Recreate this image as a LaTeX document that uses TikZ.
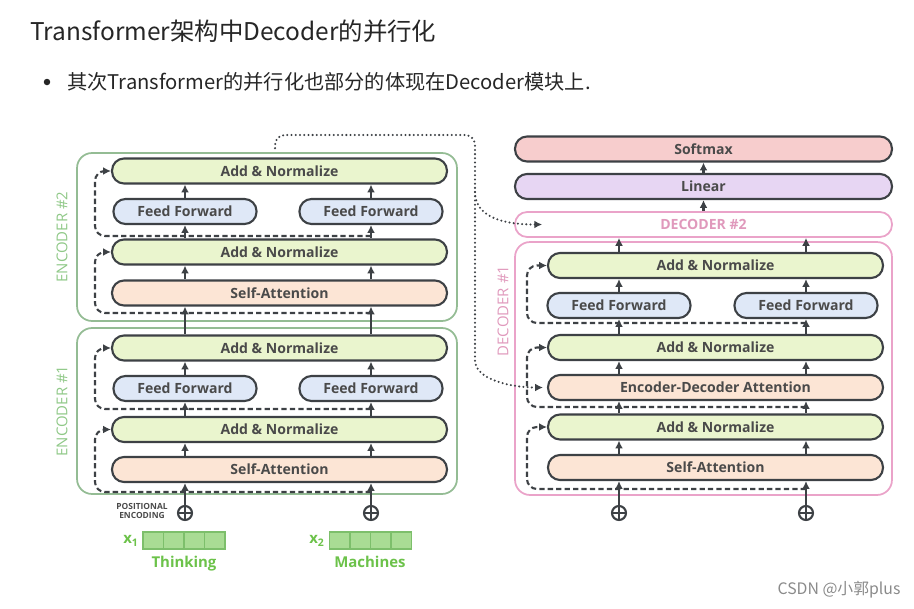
\documentclass[tikz,border=0pt]{standalone}
\usepackage{fontspec}
\setsansfont{Open Sans}
\newfontfamily\cjk{Noto Sans CJK SC}
\usetikzlibrary{arrows.meta,positioning,calc}
\definecolor{edge}{HTML}{3D4145}
\definecolor{ink}{HTML}{4A4A4A}
\definecolor{annfill}{HTML}{EAF5CE}
\definecolor{fffill}{HTML}{DFE8F7}
\definecolor{safill}{HTML}{FCE5D5}
\definecolor{smfill}{HTML}{F7CDCD}
\definecolor{linfill}{HTML}{E7D6F3}
\definecolor{encline}{HTML}{94BC94}
\definecolor{encgreen}{HTML}{8FC887}
\definecolor{decline}{HTML}{EAA3C9}
\definecolor{decpink}{HTML}{E099BC}
\definecolor{cellfill}{HTML}{A9DC94}
\definecolor{cellline}{HTML}{7DBF6B}
\definecolor{wordgreen}{HTML}{6CC24A}
\definecolor{wm}{HTML}{8A8A8A}
\tikzset{%
  layer/.style={rectangle,draw=edge,line width=1.2pt,rounded corners=0.24cm,minimum height=0.5cm,inner sep=0pt,
    font=\sffamily\bfseries\fontsize{8}{9}\selectfont,text=ink},
  addnorm/.style={layer,fill=annfill,minimum width=6.7cm},
  ffwd/.style={layer,fill=fffill,minimum width=2.86cm},
  selfatt/.style={layer,fill=safill,minimum width=6.7cm},
  toplayer/.style={layer,minimum width=7.54cm},
  encbox/.style={rectangle,draw=encline,line width=1pt,rounded corners=0.3cm,inner sep=0pt,minimum width=7.6cm},
  decbox/.style={rectangle,draw=decline,line width=1pt,rounded corners=0.3cm,inner sep=0pt,minimum width=7.54cm},
  boxlbl/.style={rotate=90,font=\sffamily\fontsize{8.5}{10}\selectfont},
  pe/.style={circle,draw=edge,line width=1.2pt,minimum size=0.28cm,inner sep=0pt,
    path picture={\draw[edge,line width=1pt] (path picture bounding box.north) -- (path picture bounding box.south)
      (path picture bounding box.west) -- (path picture bounding box.east);}},
  cell/.style={rectangle,draw=cellline,fill=cellfill,line width=0.8pt,minimum width=0.41cm,minimum height=0.34cm,inner sep=0pt},
  word/.style={font=\sffamily\bfseries\fontsize{8.5}{10}\selectfont,text=wordgreen},
  flow/.style={draw=edge,line width=1.2pt,-{Latex[length=4.5pt,width=4.5pt]}},
  resid/.style={draw=edge,line width=1.2pt,dash pattern=on 3pt off 1.8pt,rounded corners=0.2cm,-{Latex[length=4.5pt,width=4.5pt]}},
  memo/.style={draw=edge,line width=1.3pt,dash pattern=on 0pt off 2.4pt,line cap=round,rounded corners=0.2cm,-{Latex[length=4.5pt,width=4.5pt]}}%
}
\begin{document}
\begin{tikzpicture}[x=0.02cm,y=-0.02cm]
  \useasboundingbox (0,0) rectangle (914,609);

  % heading
  \node[anchor=west,inner sep=0pt,font=\cjk\fontsize{13.9}{16}\selectfont,text=black!85] (title) at (30,31) {Transformer架构中Decoder的并行化};
  \node[circle,fill=black!85,inner sep=0pt,minimum size=0.13cm] (dot) at (47,82) {};
  \node[anchor=west,inner sep=0pt,font=\cjk\fontsize{11.5}{13}\selectfont,text=black!85] (bullet) at (67,82) {其次Transformer的并行化也部分的体现在Decoder模块上.};

  % encoder stack
  \node[encbox,minimum height=3.36cm] (enc2) at (267,237) {};
  \node[encbox,minimum height=3.32cm] (enc1) at (267,411) {};
  \node[boxlbl,text=encgreen] (enc2lbl) at (62,237) {ENCODER \#2};
  \node[boxlbl,text=encgreen] (enc1lbl) at (62,411) {ENCODER \#1};

  \node[addnorm] (e2an1) at (279.5,171) {Add \& Normalize};
  \node[ffwd] (e2ffl) at (185,211.5) {Feed Forward};
  \node[ffwd] (e2ffr) at (371,211.5) {Feed Forward};
  \node[addnorm] (e2an2) at (279.5,252) {Add \& Normalize};
  \node[selfatt] (e2sa) at (279.5,293) {Self-Attention};

  \node[addnorm] (e1an1) at (279.5,348) {Add \& Normalize};
  \node[ffwd] (e1ffl) at (185,388.5) {Feed Forward};
  \node[ffwd] (e1ffr) at (371,388.5) {Feed Forward};
  \node[addnorm] (e1an2) at (279.5,429.5) {Add \& Normalize};
  \node[selfatt] (e1sa) at (279.5,469.5) {Self-Attention};

  % inputs
  \node[pe] (pe1) at (185,513) {};
  \node[pe] (pe2) at (371,513) {};
  \node[align=center,font=\sffamily\bfseries\fontsize{4.8}{5.6}\selectfont,text=ink] (pelbl) at (142,511) {POSITIONAL\\ENCODING};
  \foreach \i in {0,...,3} {
    \node[cell] (xa\i) at ({153.25+20.5*\i},540.5) {};
    \node[cell] (xb\i) at ({339.75+20.5*\i},540.5) {};
  }
  \node[word] (xalbl) at (131,541) {x\textsubscript{1}};
  \node[word] (xblbl) at (317,541) {x\textsubscript{2}};
  \node[word,anchor=base] (think) at (184,567) {Thinking};
  \node[word,anchor=base] (mach) at (370,567) {Machines};

  % decoder stack
  \node[toplayer,fill=smfill] (softmax) at (703.5,149) {Softmax};
  \node[toplayer,fill=linfill] (linear) at (703.5,186.5) {Linear};
  \node[toplayer,draw=decline,line width=1pt,fill=white,text=decpink] (dec2) at (703.5,224.5) {DECODER \#2};
  \node[decbox,minimum height=5.06cm] (dec1) at (703.5,368.5) {};
  \node[boxlbl,text=decpink] (dec1lbl) at (503,311) {DECODER \#1};

  \node[addnorm] (d1an1) at (715.5,265.5) {Add \& Normalize};
  \node[ffwd] (d1ffl) at (619,305.5) {Feed Forward};
  \node[ffwd] (d1ffr) at (806,305.5) {Feed Forward};
  \node[addnorm] (d1an2) at (715.5,347.5) {Add \& Normalize};
  \node[selfatt] (d1ed) at (715.5,387.5) {Encoder-Decoder Attention};
  \node[addnorm] (d1an3) at (715.5,427) {Add \& Normalize};
  \node[selfatt] (d1sa) at (715.5,467.5) {Self-Attention};
  \node[pe] (pe3) at (619,513) {};
  \node[pe] (pe4) at (806,513) {};

  % lanes
  \coordinate (xL) at (185,0);
  \coordinate (xR) at (371,0);
  \coordinate (dL) at (619,0);
  \coordinate (dR) at (806,0);
  \coordinate (elane) at (95,0);
  \coordinate (dlane) at (527,0);

  % upward flow
  \foreach \a/\b in {e1sa/e1an2,e1an2/e1ffl,e1ffl/e1an1,e1an1/e2sa,e2sa/e2an2,e2an2/e2ffl,e2ffl/e2an1}
    \foreach \x in {xL,xR}
      \draw[flow] (\a.north -| \x) -- (\b.south -| \x);
  \foreach \a/\b in {d1sa/d1an3,d1an3/d1ed,d1ed/d1an2,d1an2/d1ffl,d1ffl/d1an1,d1an1/dec2}
    \foreach \x in {dL,dR}
      \draw[flow] (\a.north -| \x) -- (\b.south -| \x);
  \draw[flow] (pe1) -- (e1sa.south -| pe1);
  \draw[flow] (pe2) -- (e1sa.south -| pe2);
  \draw[flow] (pe3) -- (d1sa.south -| pe3);
  \draw[flow] (pe4) -- (d1sa.south -| pe4);
  \draw[flow] (dec2.north) -- (linear.south);
  \draw[flow] (linear.north) -- (softmax.south);

  % residual connections
  \coordinate (er1) at (371,492);
  \coordinate (er2) at (371,409);
  \coordinate (er3) at (371,313);
  \coordinate (er4) at (371,236);
  \coordinate (dr1) at (806,489);
  \coordinate (dr2) at (806,407);
  \coordinate (dr3) at (806,323);
  \foreach \s/\t in {er1/e1an2,er2/e1an1,er3/e2an2,er4/e2an1}
    \draw[resid] (\s) -- (\s -| elane) |- (\t.west);
  \foreach \s/\t in {dr1/d1an3,dr2/d1an2,dr3/d1an1}
    \draw[resid] (\s) -- (\s -| dlane) |- (\t.west);

  % encoder output to decoders
  \coordinate (mtop) at (475,135);
  \coordinate (mfork) at (475,192);
  \coordinate (mlow) at (475,350);
  \draw[memo] ($(enc2.north)+(8,-4)$) |- (mtop) -- (mlow) to[out=-90,in=180] ($(d1ed.west)+(-4,0)$);
  \draw[memo] (mfork) to[out=-90,in=180] ($(dec2.west)+(28,0)$);

  \node[font=\cjk\fontsize{9}{10}\selectfont,text=wm] (mark) at (839,590) {CSDN @小郭plus};
\end{tikzpicture}
\end{document}
